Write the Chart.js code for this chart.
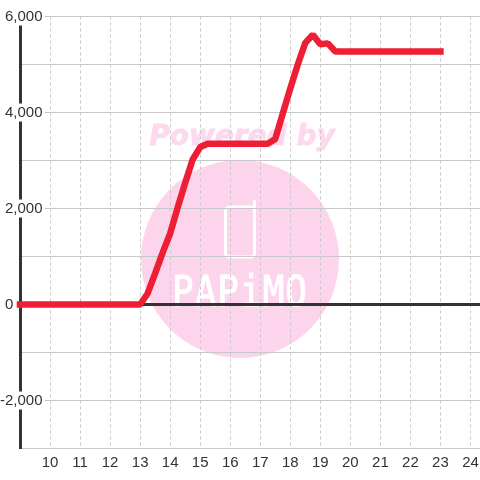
<!DOCTYPE html>
<html>
<head>
<meta charset="utf-8">
<script src="https://cdn.jsdelivr.net/npm/chart.js@4"></script>
<style>
html, body { margin: 0; padding: 0; background: #fff; }
#wrap { width: 480px; height: 480px; }
</style>
</head>
<body>
<div id="wrap"><canvas id="grafico"></canvas></div>
<script>
const horas = [9, 9.25, 9.5, 9.75, 10, 10.25, 10.5, 10.75, 11, 11.25, 11.5, 11.75, 12, 12.25, 12.5, 12.75,
    13, 13.25, 13.5, 13.75, 14, 14.25, 14.5, 14.75, 15, 15.25, 15.5, 15.75, 16, 16.25, 16.5, 16.75,
    17, 17.25, 17.5, 17.75, 18, 18.25, 18.5, 18.75, 19, 19.25, 19.5, 19.75, 20, 20.25, 20.5, 20.75,
    21, 21.25, 21.5, 21.75, 22, 22.25, 22.5, 22.75, 23];
const valores = [0, 0, 0, 0, 0, 0, 0, 0, 0, 0, 0, 0, 0, 0, 0, 0,
    0, 230, 650, 1080, 1480, 2020, 2530, 3020, 3280, 3350, 3350, 3350, 3350, 3350, 3350, 3350,
    3350, 3350, 3450, 3980, 4500, 5000, 5450, 5620, 5420, 5440, 5270, 5270, 5270, 5270, 5270, 5270,
    5270, 5270, 5270, 5270, 5270, 5270, 5270, 5270, 5270];
const marcaTitulo = 'Powered by';
const marcaNome = 'PAPiMO';

// marca d'agua por baixo das grades
const marcaDagua = {
    id: 'marcaDagua',
    beforeDraw(chart) {
        const c = chart.ctx;
        c.save();
        c.fillStyle = '#fcd5ed';
        c.beginPath();
        c.arc(240, 259, 99, 0, Math.PI * 2);
        c.fill();

        c.fillStyle = '#fcd9ee';
        c.strokeStyle = '#fcd9ee';
        c.lineWidth = 0.8;
        c.font = 'italic bold 28px "DejaVu Sans"';
        c.textAlign = 'center';
        c.textBaseline = 'alphabetic';
        c.fillText(marcaTitulo, 242, 145);
        c.strokeText(marcaTitulo, 242, 145);

        c.strokeStyle = '#fff';
        c.lineWidth = 3;
        c.lineCap = 'round';
        c.beginPath();
        c.roundRect(225.5, 207, 29, 50, 4);
        c.moveTo(254.5, 210);
        c.lineTo(254.5, 201);
        c.stroke();

        c.fillStyle = '#fff';
        c.strokeStyle = '#fff';
        c.lineWidth = 0.8;
        c.font = '36px "DejaVu Sans Mono"';
        c.letterSpacing = '1px';
        c.translate(240, 306);
        c.scale(1, 1.2);
        c.fillText(marcaNome, 0, 0);
        c.strokeText(marcaNome, 0, 0);
        c.restore();
    }
};

new Chart(document.getElementById('grafico'), {
    type: 'line',
    data: {
        labels: horas,
        datasets: [{
            data: valores,
            borderColor: '#ee1f35',
            borderWidth: 6.5,
            borderCapStyle: 'square',
            borderJoinStyle: 'bevel',
            pointRadius: 0,
            tension: 0,
            fill: false,
            clip: false
        }]
    },
    options: {
        responsive: true,
        maintainAspectRatio: false,
        animation: false,
        layout: { padding: { top: 16.5, right: 0, bottom: 0, left: 0 } },
        plugins: { legend: { display: false }, tooltip: { enabled: false } },
        scales: {
            x: {
                type: 'linear',
                min: 9,
                max: 24.317,
                afterFit: s => { s.height = 31.5; s.paddingLeft = 0; s.paddingRight = 0; },
                border: { display: false, dash: [3, 3] },
                grid: { color: '#c8c8c8', lineWidth: 1, drawTicks: false },
                ticks: {
                    stepSize: 1,
                    includeBounds: false,
                    autoSkip: false,
                    maxRotation: 0,
                    padding: 5,
                    color: '#333',
                    font: { family: '"Liberation Sans"', size: 15 },
                    callback: v => (v >= 10 ? String(v) : '')
                }
            },
            y: {
                min: -3000,
                max: 6000,
                afterFit: s => { s.width = 20; s.paddingTop = 0; s.paddingBottom = 0; },
                border: { display: true, color: '#333', width: 3 },
                grid: {
                    color: c => (c.tick.value === 0 ? '#333' : '#c8c8c8'),
                    lineWidth: c => (c.tick.value === 0 ? 3 : 1),
                    drawTicks: false
                },
                ticks: {
                    stepSize: 1000,
                    mirror: true,
                    crossAlign: 'far',
                    padding: -20,
                    color: '#333',
                    font: { family: '"Liberation Sans"', size: 15 },
                    showLabelBackdrop: c => c.tick.value !== 0 && c.tick.value % 2000 === 0,
                    backdropColor: '#fff',
                    backdropPadding: { left: 2, right: 2, top: 0, bottom: 0 },
                    callback: v => {
                        if (v % 2000 !== 0) return '';
                        return v === 0 ? '0\u00a0\u00a0\u00a0\u00a0\u00a0\u00a0\u00a0' : v.toLocaleString('en-US');
                    }
                }
            }
        }
    },
    plugins: [marcaDagua]
});
</script>
</body>
</html>
